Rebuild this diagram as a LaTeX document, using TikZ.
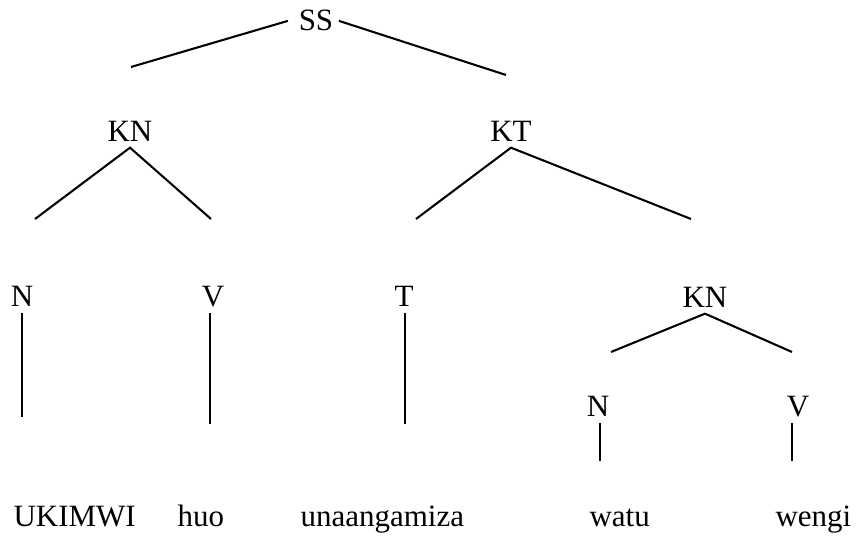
\documentclass[tikz,border=0pt]{standalone}
\usepackage{fontspec}
\setmainfont{Liberation Serif}
\usepackage{tikz}
\tikzset{cat/.style={inner sep=2pt, anchor=base, font=\fontsize{12}{14}\selectfont}}
\tikzset{word/.style={inner sep=0pt, anchor=base west, font=\fontsize{12}{14}\selectfont}}
\tikzset{branch/.style={draw, line width=0.8pt}}

\begin{document}
\begin{tikzpicture}[x=0.387pt, y=-0.387pt]
    \useasboundingbox (0,0) rectangle (861,538);

    % categories
    \node[cat] (SS) at (316,31) {SS};
    \node[cat] (KN1) at (130,142) {KN};
    \node[cat] (KT) at (511,142) {KT};
    \node[cat] (N1) at (22,307) {N};
    \node[cat] (V1) at (213,307) {V};
    \node[cat] (T) at (404,307) {T};
    \node[cat] (KN2) at (705,308) {KN};
    \node[cat] (N2) at (598,417) {N};
    \node[cat] (V2) at (798,417) {V};

    % words
    \node[word] (w1) at (13,527) {UKIMWI};
    \node[word] (w2) at (177,527) {huo};
    \node[word] (w3) at (300,527) {unaangamiza};
    \node[word] (w4) at (589,527) {watu};
    \node[word] (w5) at (775,527) {wengi};

    % free ends of the branches
    \coordinate (ss-l) at (131,67);
    \coordinate (ss-r) at (506,75);
    \coordinate (kn1-l) at (35,219);
    \coordinate (kn1-r) at (211,219);
    \coordinate (kt-l) at (416,219);
    \coordinate (kt-r) at (691,219);
    \coordinate (n1-d) at (22,417);
    \coordinate (v1-d) at (210,424);
    \coordinate (t-d) at (405,424);
    \coordinate (kn2-l) at (611,352);
    \coordinate (kn2-r) at (792,352);
    \coordinate (n2-d) at (600,461);
    \coordinate (v2-d) at (792,461);

    \draw[branch] ([xshift=-2pt]SS.west) -- (ss-l);
    \draw[branch] (SS.east) -- (ss-r);
    \draw[branch] (kn1-l) -- (KN1.south) -- (kn1-r);
    \draw[branch] (kt-l) -- (KT.south) -- (kt-r);
    \draw[branch] (N1.south -| n1-d) -- (n1-d);
    \draw[branch] (V1.south -| v1-d) -- (v1-d);
    \draw[branch] (T.south -| t-d) -- (t-d);
    \draw[branch] (kn2-l) -- (KN2.south) -- (kn2-r);
    \draw[branch] (N2.south -| n2-d) -- (n2-d);
    \draw[branch] (V2.south -| v2-d) -- (v2-d);
\end{tikzpicture}
\end{document}
